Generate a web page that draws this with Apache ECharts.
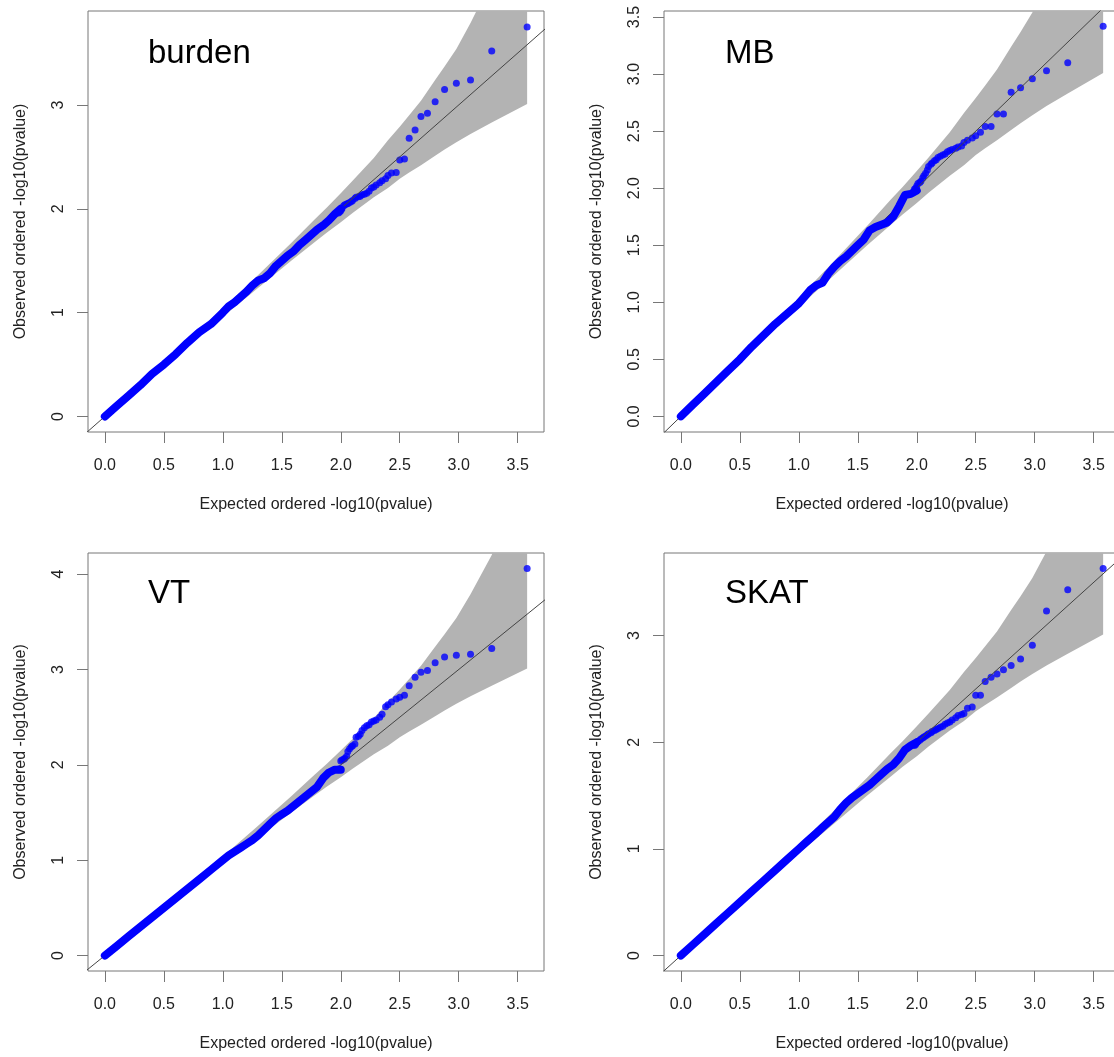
<!DOCTYPE html>
<html><head><meta charset="utf-8">
<script src="https://cdn.jsdelivr.net/npm/echarts@6/dist/echarts.min.js"></script>
<style>html,body{margin:0;padding:0;background:#fff}#c{width:1114px;height:1057px}</style>
</head><body><div id="c"></div>
<script>
// ---------------- data ----------------
const panelTitles = ['burden', 'MB', 'VT', 'SKAT'];
const xTickValues = [0, 0.5, 1, 1.5, 2, 2.5, 3, 3.5];
const yTicksBurden = [0, 1, 2, 3];
const yTicksMB = [0, 0.5, 1, 1.5, 2, 2.5, 3, 3.5];
const yTicksVT = [0, 1, 2, 3, 4];
const yTicksSKAT = [0, 1, 2, 3];

// dense part of the point cloud (points overlap into a thick ribbon)
const denseX = [0,0.1,0.2,0.3,0.4,0.5,0.6,0.7,0.8,0.9,1.0,1.05,1.1,1.15,1.2,1.25,1.3,1.35,1.4,1.45,1.5,1.55,1.6,1.65,1.7,1.75,1.8,1.85,1.9,1.95,2.0];
const burdenDenseY = [0,0.10,0.20,0.30,0.41,0.50,0.60,0.71,0.81,0.89,1.00,1.06,1.10,1.15,1.20,1.26,1.31,1.33,1.38,1.45,1.50,1.55,1.59,1.65,1.70,1.75,1.80,1.84,1.89,1.95,2.00];
const mbDenseY     = [0,0.10,0.20,0.30,0.40,0.50,0.61,0.71,0.81,0.90,0.99,1.05,1.11,1.15,1.17,1.25,1.31,1.36,1.40,1.45,1.50,1.55,1.63,1.66,1.68,1.70,1.75,1.84,1.94,1.95,1.98];
const vtDenseY     = [0,0.10,0.20,0.30,0.40,0.50,0.60,0.70,0.80,0.90,1.00,1.05,1.09,1.13,1.17,1.21,1.26,1.32,1.38,1.44,1.48,1.52,1.57,1.62,1.67,1.72,1.77,1.86,1.92,1.95,1.95];
const skatDenseY   = [0,0.10,0.20,0.30,0.40,0.50,0.60,0.70,0.80,0.90,1.00,1.05,1.10,1.15,1.20,1.25,1.30,1.37,1.43,1.48,1.52,1.56,1.60,1.65,1.70,1.75,1.79,1.85,1.93,1.97,2.00];

// the 40 largest points (expected value shared by all panels)
const tailX = [3.58,3.28,3.10,2.98,2.88,2.80,2.735,2.68,2.63,2.58,2.54,2.50,2.47,2.43,2.40,2.38,2.35,2.33,2.30,2.28,2.26,2.24,2.22,2.20,2.18,2.165,2.15,2.13,2.12,2.10,2.09,2.075,2.06,2.05,2.035,2.025,2.01,2.00,1.99,1.98];
const burdenTailY = [3.75,3.52,3.24,3.21,3.15,3.03,2.92,2.89,2.76,2.68,2.48,2.47,2.35,2.345,2.32,2.29,2.27,2.25,2.23,2.21,2.20,2.17,2.15,2.14,2.135,2.12,2.115,2.11,2.10,2.08,2.07,2.06,2.05,2.045,2.04,2.03,2.00,1.98,1.97,1.96];
const mbTailY     = [3.42,3.10,3.03,2.96,2.88,2.84,2.65,2.65,2.54,2.54,2.49,2.46,2.44,2.42,2.40,2.37,2.36,2.35,2.34,2.33,2.32,2.30,2.29,2.28,2.27,2.25,2.24,2.22,2.21,2.19,2.16,2.13,2.11,2.09,2.06,2.05,2.04,2.02,2.00,1.99];
const vtTailY     = [4.06,3.22,3.16,3.15,3.13,3.07,2.99,2.97,2.92,2.83,2.73,2.71,2.69,2.66,2.63,2.61,2.53,2.50,2.47,2.46,2.45,2.42,2.41,2.39,2.36,2.32,2.30,2.29,2.22,2.20,2.19,2.17,2.14,2.09,2.07,2.06,2.05,2.04,1.96,1.95];
const skatTailY   = [3.63,3.43,3.23,2.91,2.78,2.72,2.68,2.64,2.61,2.57,2.44,2.44,2.33,2.32,2.27,2.26,2.25,2.23,2.21,2.19,2.18,2.17,2.15,2.14,2.13,2.12,2.11,2.10,2.09,2.08,2.07,2.06,2.05,2.04,2.03,2.02,2.01,2.00,1.98,1.97];

// grey confidence band (same in every panel)
const bandX     = [0.00,0.50,1.00,1.28,1.58,1.78,1.88,2.00,2.10,2.28,2.40,2.50,2.58,2.68,2.80,2.88,2.98,3.10,3.28,3.58];
const bandUpper = [0.00,0.52,1.04,1.34,1.67,1.90,2.01,2.15,2.27,2.49,2.66,2.79,2.90,3.04,3.24,3.37,3.54,3.79,4.20,5.18];
const bandLower = [0.00,0.48,0.96,1.22,1.50,1.68,1.77,1.87,1.96,2.11,2.20,2.29,2.35,2.42,2.51,2.57,2.64,2.72,2.83,3.01];

// axis extents (R style 4% padding)
const xRange = [-0.143, 3.723];
const yRanges = [[-0.150, 3.905], [-0.137, 3.553], [-0.162, 4.222], [-0.145, 3.775]];

// ---------------- chart ----------------
const FONT = 'Liberation Sans, Arial, Helvetica, sans-serif';
const grids = [
  {left: 88, top: 11, width: 456, height: 421},
  {left: 664, top: 11, width: 456, height: 421},
  {left: 88, top: 553, width: 456, height: 418},
  {left: 664, top: 553, width: 456, height: 418}
];
const yTickSets = [yTicksBurden, yTicksMB, yTicksVT, yTicksSKAT];
const denseYs = [burdenDenseY, mbDenseY, vtDenseY, skatDenseY];
const tailYs = [burdenTailY, mbTailY, vtTailY, skatTailY];

const zip = (a, b) => a.map((v, i) => [v, b[i]]);
const bandPoly = zip(bandX, bandUpper).concat(zip(bandX, bandLower).reverse());

const option = {
  animation: false,
  backgroundColor: '#fff',
  title: panelTitles.map((t, i) => ({
    text: t,
    left: (i % 2 === 0) ? 143 : 720,
    top: (i < 2) ? 32 : 572,
    textStyle: {fontSize: 33, fontWeight: 'normal', color: '#000', fontFamily: FONT}
  })),
  grid: grids.map(g => Object.assign({show: true, borderColor: '#777', borderWidth: 1,
    backgroundColor: 'transparent', outerBoundsMode: 'none', containLabel: false}, g)),
  xAxis: grids.map((g, i) => ({
    type: 'value', gridIndex: i, min: xRange[0], max: xRange[1],
    axisLine: {show: false, onZero: false},
    splitLine: {show: false},
    axisTick: {show: true, length: 11, lineStyle: {color: '#777', width: 1}, customValues: xTickValues},
    axisLabel: {show: true, margin: 26, fontSize: 16, color: '#222', fontFamily: FONT,
      customValues: xTickValues, formatter: v => v.toFixed(1)},
    name: 'Expected ordered -log10(pvalue)', nameLocation: 'middle', nameGap: 65,
    nameTextStyle: {fontSize: 16, color: '#222', fontFamily: FONT}
  })),
  yAxis: grids.map((g, i) => ({
    type: 'value', gridIndex: i, min: yRanges[i][0], max: yRanges[i][1],
    axisLine: {show: false, onZero: false},
    splitLine: {show: false},
    axisTick: {show: true, length: 11, lineStyle: {color: '#777', width: 1}, customValues: yTickSets[i]},
    axisLabel: {show: true, margin: 21, rotate: 90, fontSize: 16, color: '#222', fontFamily: FONT,
      customValues: yTickSets[i], formatter: v => (i === 1 ? v.toFixed(1) : String(Math.round(v)))},
    name: 'Observed ordered -log10(pvalue)', nameLocation: 'middle', nameGap: 59,
    nameTextStyle: {fontSize: 16, color: '#222', fontFamily: FONT}
  })),
  series: []
};

for (let i = 0; i < 4; i++) {
  option.series.push({
    type: 'custom', xAxisIndex: i, yAxisIndex: i, silent: true, clip: true,
    data: [[0, 0]],
    renderItem: (params, api) => {
      const pts = bandPoly.map(p => api.coord(p));
      const cs = params.coordSys;
      return {
        type: 'polygon', shape: {points: pts},
        style: {fill: '#b3b3b3', stroke: null},
        clipPath: {type: 'rect', shape: {x: cs.x, y: cs.y, width: cs.width, height: cs.height}}
      };
    }
  });
  option.series.push({
    type: 'line', xAxisIndex: i, yAxisIndex: i, silent: true, clip: true,
    data: [[-1, -1], [6, 6]], showSymbol: false, symbol: 'none',
    lineStyle: {color: '#444', width: 1}
  });
  option.series.push({
    type: 'line', xAxisIndex: i, yAxisIndex: i, silent: true, clip: true,
    data: zip(denseX, denseYs[i]), symbol: 'none',
    lineStyle: {color: '#0000ff', width: 8, cap: 'round', join: 'round'}
  });
  option.series.push({
    type: 'scatter', xAxisIndex: i, yAxisIndex: i, silent: true, clip: true,
    data: zip(tailX, tailYs[i]), symbol: 'circle', symbolSize: 7,
    itemStyle: {color: '#0000ff'}
  });
}

const chart = echarts.init(document.getElementById('c'), null, {renderer: 'canvas'});
chart.setOption(option);
</script>
</body></html>
